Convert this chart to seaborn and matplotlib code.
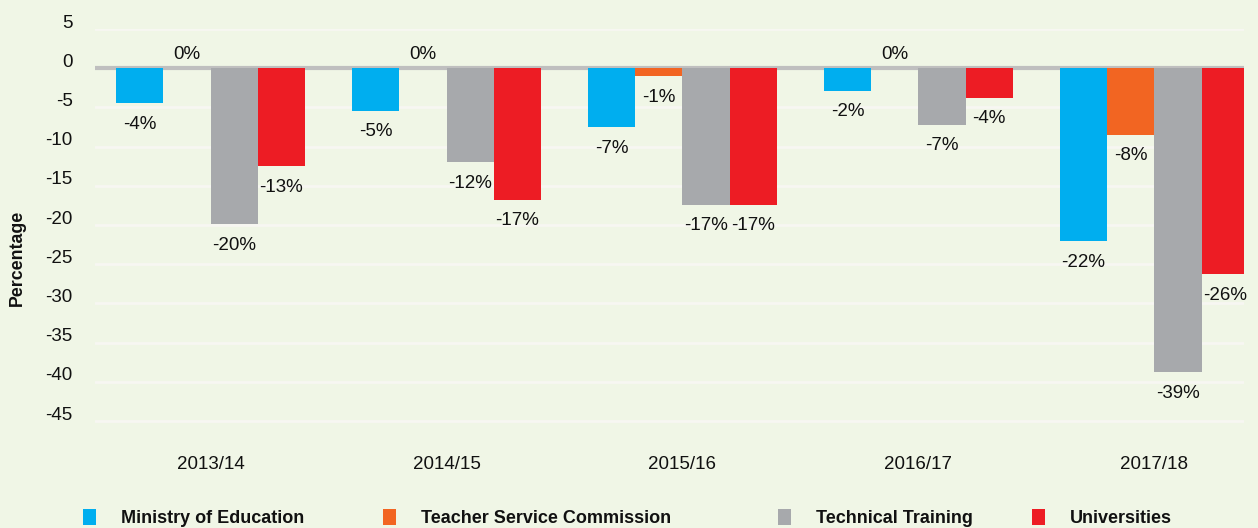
import matplotlib
matplotlib.use("Agg")
import matplotlib.pyplot as plt
import matplotlib.transforms as mtransforms
from matplotlib.patches import Patch
import seaborn as sns
import pandas as pd

years = ["2013/14", "2014/15", "2015/16", "2016/17", "2017/18"]
series = ["Ministry of Education", "Teacher Service Commission",
          "Technical Training", "Universities"]
moe = [-4.5, -5.4, -7.5, -2.9, -22.1]
tsc = [0.0, 0.0, -1.0, 0.0, -8.5]
tech = [-19.9, -12.0, -17.4, -7.2, -38.8]
univ = [-12.5, -16.8, -17.4, -3.8, -26.3]
moe_lbl = ["-4%", "-5%", "-7%", "-2%", "-22%"]
tsc_lbl = ["0%", "0%", "-1%", "0%", "-8%"]
tech_lbl = ["-20%", "-12%", "-17%", "-7%", "-39%"]
univ_lbl = ["-13%", "-17%", "-17%", "-4%", "-26%"]
yticks = [5, 0, -5, -10, -15, -20, -25, -30, -35, -40, -45]

colors = ["#00AEEF", "#F26522", "#A7A9AC", "#ED1C24"]
bg = "#F0F6E6"

values = [moe, tsc, tech, univ]
labels = [moe_lbl, tsc_lbl, tech_lbl, univ_lbl]
rows = []
for s, vals in zip(series, values):
    for y, v in zip(years, vals):
        rows.append({"year": y, "series": s, "value": v})
df = pd.DataFrame(rows)

sns.set_theme(style="white")
plt.rcParams["font.family"] = ["Liberation Sans", "DejaVu Sans"]

fig = plt.figure(figsize=(12.58, 5.28), dpi=100, facecolor=bg)
ax = fig.add_axes([95 / 1258, 1 - 423 / 528, (1244 - 95) / 1258, (423 - 29) / 528])
ax.set_facecolor(bg)

sns.barplot(data=df, x="year", y="value", hue="series", hue_order=series,
            order=years, palette=colors, saturation=1, width=0.8,
            ax=ax, legend=False, errorbar=None, zorder=3, linewidth=0,
            edgecolor="none")

ax.set_ylim(-45.25, 5)
ax.set_xlim(-0.49, 4.38)
ax.set_yticks(yticks)
ax.set_yticklabels([str(t) for t in yticks])
ax.yaxis.grid(True, color="#F7F7F2", linewidth=2, zorder=0)
ax.xaxis.grid(False)
ax.axhline(0, color="#BFBFBF", linewidth=3, zorder=2)
for sp in ax.spines.values():
    sp.set_visible(False)
ax.tick_params(axis="y", length=0, pad=16, labelsize=13.5, labelcolor="#111111")
ax.tick_params(axis="x", length=0, pad=24, labelsize=13.5, labelcolor="#111111")
off = mtransforms.ScaledTranslation(0, 0.08, fig.dpi_scale_trans)
for lab in ax.get_yticklabels():
    lab.set_transform(lab.get_transform() + off)
ax.set_xlabel("")
ax.set_ylabel("Percentage", fontsize=12.8, fontweight="bold", color="#111111")
ax.yaxis.set_label_coords(-0.060, 0.42)

for cont, lbls, vals in zip(ax.containers, labels, values):
    neg = [l if v != 0 else "" for l, v in zip(lbls, vals)]
    zero = [l if v == 0 else "" for l, v in zip(lbls, vals)]
    ax.bar_label(cont, labels=neg, padding=9, fontsize=13.5, color="#111111")
    ax.bar_label(cont, labels=zero, padding=4, fontsize=13.5, color="#111111")

leg_x = [83, 383, 778, 1032]
for name, c, xp in zip(series, colors, leg_x):
    lg = fig.legend([Patch(facecolor=c, edgecolor="none")], [name],
                    loc="center left", bbox_to_anchor=(xp / 1258, 1 - 518 / 528),
                    frameon=False, handlelength=0.72, handleheight=1.0,
                    handletextpad=1.4, borderpad=0, borderaxespad=0,
                    prop={"weight": "bold", "size": 13})
    for t in lg.get_texts():
        t.set_color("#111111")

fig.savefig("out.png", dpi=100, facecolor=bg)
